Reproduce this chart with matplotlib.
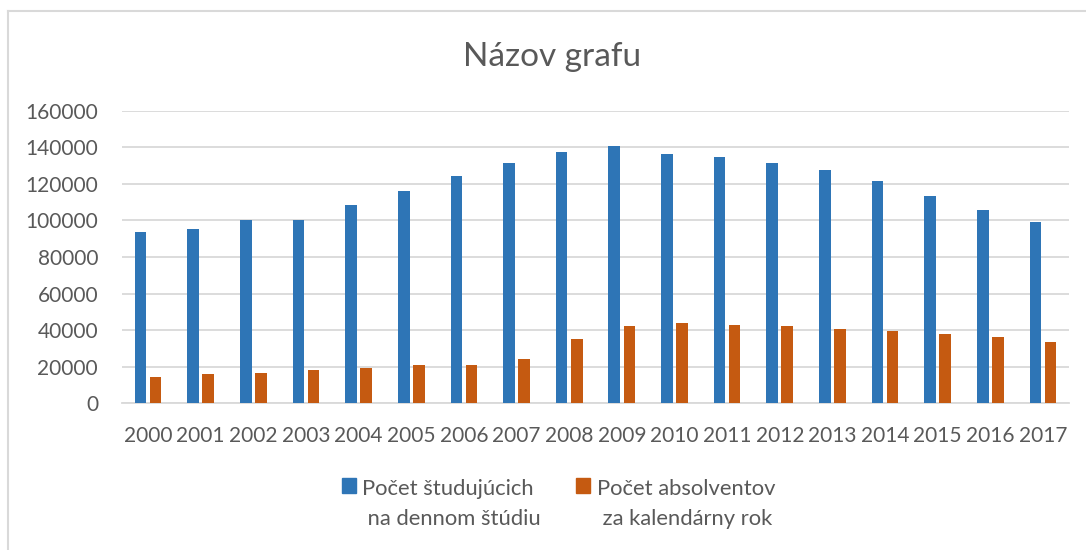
import numpy as np
import matplotlib
matplotlib.use("Agg")
import matplotlib.pyplot as plt
import matplotlib.patches as mpatches
from matplotlib.legend_handler import HandlerPatch
from matplotlib.lines import Line2D

years = [str(y) for y in range(2000, 2018)]
students = [93500, 95300, 100000, 100000, 108200, 115900, 124500, 131200, 137400,
            140700, 136300, 134700, 131400, 127600, 121600, 113200, 105700, 99000]
graduates = [14400, 16200, 16400, 18000, 19300, 20800, 20800, 24000, 35200,
             42300, 43700, 42600, 42300, 40600, 39700, 38100, 36300, 33400]
label_students = "Počet študujúcich\n na dennom štúdiu"
label_graduates = "Počet absolventov\n za kalendárny rok"
title = "Názov grafu"

BLUE = "#2E75B6"
ORANGE = "#C55A11"
GRAY_TXT = "#595959"
GRID = "#D9D9D9"

plt.rcParams['font.family'] = ['Lato', 'DejaVu Sans']

W, H = 1086, 550
fig = plt.figure(figsize=(W / 100, H / 100), dpi=100)
ax = fig.add_axes([121.7 / W, 1 - 403.3 / H, (1069.3 - 121.7) / W, (403.3 - 110.7) / H])

x = np.arange(len(years))
w = 0.222
off = 0.143
ax.bar(x - off, students, width=w, color=BLUE, label=label_students, zorder=3)
ax.bar(x + off, graduates, width=w, color=ORANGE, label=label_graduates, zorder=3)

ax.set_xlim(-0.5, len(years) - 0.5)
ax.set_ylim(0, 160000)
ax.set_yticks(range(0, 160001, 20000))
ax.set_xticks(x)
ax.set_xticklabels(years)
ax.yaxis.grid(True, color=GRID, linewidth=1.3, zorder=0)
for s in ["top", "right", "left"]:
    ax.spines[s].set_visible(False)
ax.spines["bottom"].set_color(GRID)
ax.spines["bottom"].set_linewidth(1.3)
ax.tick_params(axis="both", length=0, labelsize=15, colors=GRAY_TXT)
ax.tick_params(axis="y", pad=17)
ax.tick_params(axis="x", pad=16)

fig.text(552 / W, 1 - 66 / H, title, ha="center", va="baseline", fontsize=24, color=GRAY_TXT)


# legend square sits next to the first line of the label
def top_square(legend, orig_handle, xdescent, ydescent, width, height, fontsize):
    return mpatches.Rectangle((-xdescent, -ydescent + 0.86 * fontsize), width, height)


handler = HandlerPatch(patch_func=top_square)
h1 = mpatches.Patch(color=BLUE)
h2 = mpatches.Patch(color=ORANGE)
leg = fig.legend([h1, h2], [label_students, label_graduates], ncol=2,
                 loc="upper center", bbox_to_anchor=(558.5 / W, 1 - 479 / H),
                 frameon=False, fontsize=15.8, handlelength=0.65, handleheight=0.65,
                 handletextpad=0.28, columnspacing=1.6, borderpad=0, borderaxespad=0,
                 handler_map={h1: handler, h2: handler})
for t in leg.get_texts():
    t.set_color(GRAY_TXT)
    t.set_linespacing(1.62)

# chart area border
fig.add_artist(Line2D([8 / W, 8 / W], [0, 1 - 11 / H], transform=fig.transFigure,
                      color=GRID, linewidth=1.5))
fig.add_artist(Line2D([8 / W, 1], [1 - 11 / H, 1 - 11 / H], transform=fig.transFigure,
                      color=GRID, linewidth=1.5))

fig.savefig("out.png", dpi=100)
